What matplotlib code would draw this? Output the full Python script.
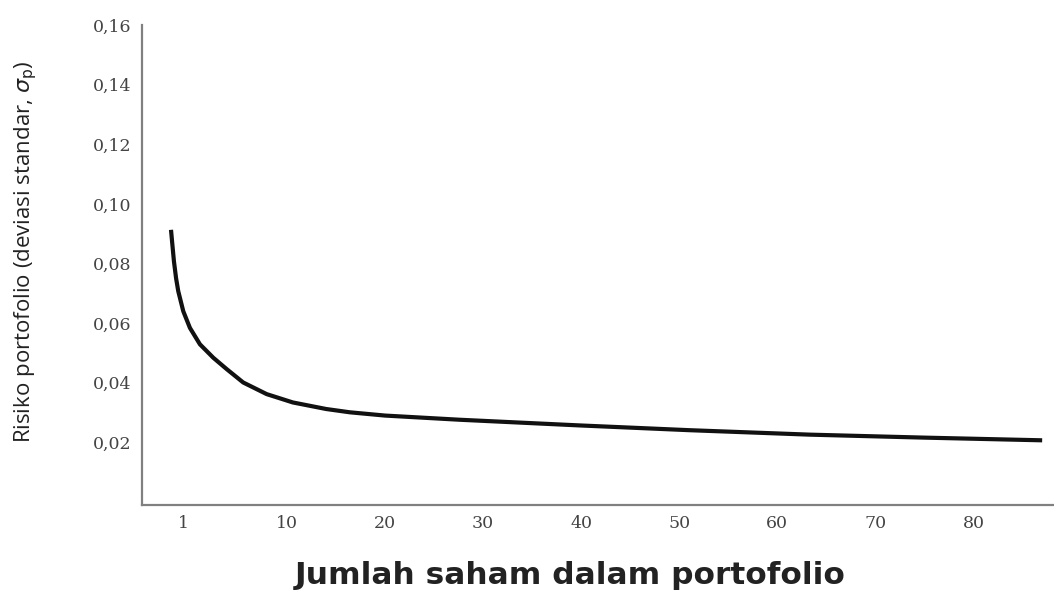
import matplotlib.pyplot as plt

# curve (x in axis units, "1" sits a bit left of 0)
jumlah = [-1.82, -1.70, -1.52, -1.30, -1.08, -0.57, 0.11, 1.13, 2.49, 3.85,
          5.54, 7.93, 10.6, 14.0, 16.4, 20.0, 27.6, 39.8, 51.0, 63.3, 75.0, 87.0]
risiko = [0.0913, 0.0870, 0.0807, 0.0750, 0.0707, 0.0640, 0.0584, 0.0529,
          0.0484, 0.0446, 0.0401, 0.0362, 0.0334, 0.0312, 0.0301, 0.0290,
          0.0276, 0.0257, 0.0241, 0.0226, 0.0216, 0.0207]

xtick_pos = [-0.6, 10, 20, 30, 40, 50, 60, 70, 80]
xtick_lbl = ["1", "10", "20", "30", "40", "50", "60", "70", "80"]
ytick_pos = [0.02, 0.04, 0.06, 0.08, 0.10, 0.12, 0.14, 0.16]
ytick_lbl = ["0,02", "0,04", "0,06", "0,08", "0,10", "0,12", "0,14", "0,16"]

fig = plt.figure(figsize=(10.54, 5.91), dpi=100)
ax = fig.add_axes([0.1347, 0.1455, 0.8643, 0.8122])

ax.plot(jumlah, risiko, color="#111111", lw=3.0, solid_capstyle="butt",
        solid_joinstyle="round")

ax.set_xlim(-4.78, 88.1)
ax.set_ylim(-0.001, 0.1593)

ax.set_xticks(xtick_pos)
ax.set_xticklabels(xtick_lbl)
ax.set_yticks(ytick_pos)
ax.set_yticklabels(ytick_lbl)
for lbl in ax.get_xticklabels() + ax.get_yticklabels():
    lbl.set_family("DejaVu Serif")
    lbl.set_fontsize(12.5)
    lbl.set_color("#444444")
ax.tick_params(length=0, pad=7.5)

for s in ["top", "right"]:
    ax.spines[s].set_visible(False)
for s in ["left", "bottom"]:
    ax.spines[s].set_color("#808080")
    ax.spines[s].set_linewidth(1.6)

ax.set_ylabel(r"Risiko portofolio (deviasi standar, $\sigma_{\rm p}$)",
              family=["Open Sans", "DejaVu Sans"], fontsize=16, color="#222222",
              labelpad=0, va="center")
ax.yaxis.set_label_coords(-0.128, 0.527)

fig.text(570 / 1054, 1 - 575 / 591, "Jumlah saham dalam portofolio",
         family="DejaVu Sans", fontsize=22.5, fontweight="bold", color="#222222",
         ha="center", va="center")

plt.savefig("out.png")
